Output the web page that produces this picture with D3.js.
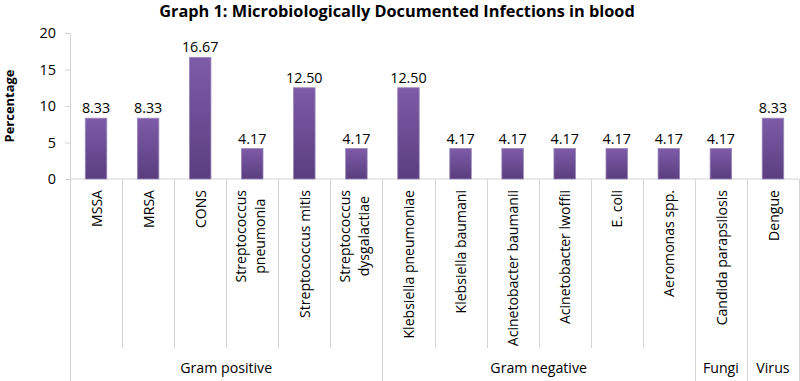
<!DOCTYPE html>
<html><head><meta charset="utf-8">
<script src="https://cdn.jsdelivr.net/npm/d3@7"></script>
<style>body{margin:0;background:#fff}svg{display:block}</style>
</head><body>
<script>
const categories = [
  ["MSSA"], ["MRSA"], ["CONS"], ["Streptococcus", "pneumonia"], ["Streptococcus mitis"],
  ["Streptococcus", "dysgalactiae"], ["Klebsiella pneumoniae"], ["Klebsiella baumani"],
  ["Acinetobacter baumanii"], ["Acinetobacter lwoffii"], ["E. coli"], ["Aeromonas spp."],
  ["Candida parapsilosis"], ["Dengue"]
];
const values = [8.33, 8.33, 16.67, 4.17, 12.50, 4.17, 12.50, 4.17, 4.17, 4.17, 4.17, 4.17, 4.17, 8.33];
const groups = [
  {name: "Gram positive", count: 6},
  {name: "Gram negative", count: 6},
  {name: "Fungi", count: 1},
  {name: "Virus", count: 1}
];
const yTicks = [0, 5, 10, 15, 20];
const title = "Graph 1: Microbiologically Documented Infections in blood";
const yTitle = "Percentage";

const W = 800, H = 381;
const FONT = "'Open Sans', sans-serif";
const svg = d3.select("body").append("svg").attr("width", W).attr("height", H);

function fit(str, weight, target) {
  const t = svg.append("text").attr("font-family", FONT).attr("font-weight", weight).attr("font-size", 100).text(str);
  const w = t.node().getComputedTextLength();
  t.remove();
  return 100 * target / w;
}
const titleFS = fit(title, "bold", 476);
const yTitleFS = fit(yTitle, "bold", 73);
const labFS = fit("Streptococcus mitis", "normal", 128);
const grpFS = fit("Gram positive", "normal", 92);
const valFS = fit("16.67", "normal", 36.5);
const tickFS = fit("20", "normal", 16.5);

const defs = svg.append("defs");
const grad = defs.append("linearGradient").attr("id", "bg").attr("x1", 0).attr("y1", 0).attr("x2", 0).attr("y2", 1);
grad.append("stop").attr("offset", "0%").attr("stop-color", "#7e5ba8");
grad.append("stop").attr("offset", "100%").attr("stop-color", "#5a3e7f");

const x0 = 70, x1 = 799, yTop = 33, yBase = 179;
const idx = categories.map((d, i) => i);
const x = d3.scaleBand().domain(idx).range([x0, x1]).paddingInner(0).paddingOuter(0);
const y = d3.scaleLinear().domain([0, 20]).range([yBase, yTop]);

const grey = "#d4d4d4";

// title
svg.append("text").attr("x", 397).attr("y", 17).attr("text-anchor", "middle")
  .attr("font-family", FONT).attr("font-weight", "bold").attr("font-size", titleFS).attr("fill", "#000")
  .text(title);

// y axis title
svg.append("text").attr("transform", `translate(14,106) rotate(-90)`).attr("text-anchor", "middle")
  .attr("font-family", FONT).attr("font-weight", "bold").attr("font-size", yTitleFS).text(yTitle);

// y axis
const yAxis = d3.axisLeft(y).tickValues(yTicks).tickSize(5).tickPadding(9);
const ya = svg.append("g").attr("transform", `translate(${x0},0)`).call(yAxis);
ya.select(".domain").attr("stroke", grey);
ya.selectAll(".tick line").attr("stroke", grey);
ya.selectAll(".tick text").attr("font-family", FONT).attr("font-size", tickFS).attr("fill", "#000");

// x baseline
svg.append("line").attr("x1", x0).attr("x2", x1).attr("y1", yBase).attr("y2", yBase).attr("stroke", grey);

// dividers
const groupBounds = new Set([0]);
let acc = 0;
groups.forEach(g => { acc += g.count; groupBounds.add(acc); });
for (let i = 0; i <= categories.length; i++) {
  const xx = i < categories.length ? x(i) : x1;
  const full = groupBounds.has(i);
  svg.append("line").attr("x1", Math.round(xx) + 0.5).attr("x2", Math.round(xx) + 0.5)
    .attr("y1", yBase).attr("y2", full ? H : 348).attr("stroke", grey);
}

// bars
const bw = 21.5;
svg.append("g").selectAll("rect").data(values).join("rect")
  .attr("x", (d, i) => x(i) + x.bandwidth() / 2 - bw / 2)
  .attr("y", d => y(d))
  .attr("width", bw)
  .attr("height", d => yBase - y(d))
  .attr("fill", "url(#bg)")
  .attr("stroke", "#9a86b8").attr("stroke-width", 0.8);

// value labels
svg.append("g").selectAll("text").data(values).join("text")
  .attr("x", (d, i) => x(i) + x.bandwidth() / 2)
  .attr("y", d => y(d) - 5)
  .attr("text-anchor", "middle")
  .attr("font-family", FONT).attr("font-size", valFS).attr("fill", "#000")
  .text(d => d.toFixed(2));

// category labels
const labG = svg.append("g").attr("font-family", FONT).attr("font-size", labFS).attr("fill", "#000");
const lh = 19;
categories.forEach((lines, i) => {
  const cx = x(i) + x.bandwidth() / 2;
  const n = lines.length;
  if (n === 1) {
    labG.append("text").attr("text-anchor", "end")
      .attr("transform", `translate(${cx + labFS * 0.4},190) rotate(-90)`).text(lines[0]);
  } else {
    const widths = lines.map(s => { const tt = labG.append("text").text(s); const w = tt.node().getComputedTextLength(); tt.remove(); return w; });
    const L = Math.max(...widths);
    const cy = 190 + L / 2;
    lines.forEach((s, k) => {
      const off = (k - (n - 1) / 2) * lh + 3.5;
      labG.append("text").attr("text-anchor", "middle")
        .attr("transform", `translate(${cx + off},${cy}) rotate(-90)`).text(s);
    });
  }
});

// group labels
let start = 0;
groups.forEach(g => {
  const a = x(start), b = (start + g.count < categories.length) ? x(start + g.count) : x1;
  svg.append("text").attr("x", (a + b) / 2).attr("y", 373).attr("text-anchor", "middle")
    .attr("font-family", FONT).attr("font-size", grpFS).attr("fill", "#000").text(g.name);
  start += g.count;
});
</script>
</body></html>
